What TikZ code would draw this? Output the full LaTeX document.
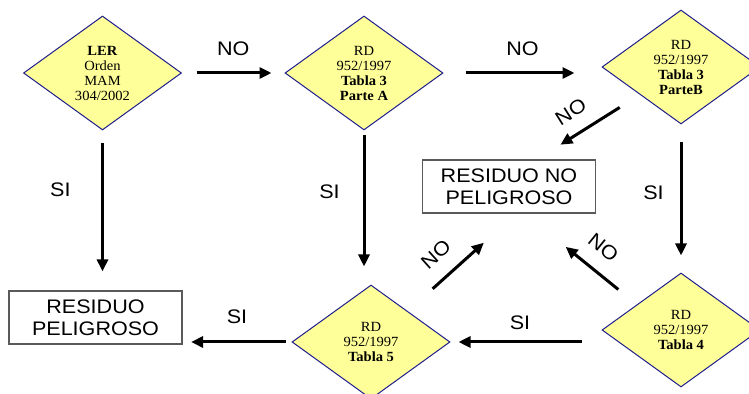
\documentclass[tikz,border=0pt]{standalone}
\usepackage{fontspec}
\setmainfont{Liberation Sans}[FakeStretch=1.1]
\newfontfamily\rdfont{Liberation Serif}[FakeStretch=1.04]
\usetikzlibrary{shapes.geometric,arrows.meta,positioning,calc}
\definecolor{normayellow}{RGB}{255,255,153}
\definecolor{normablue}{RGB}{30,30,140}
\definecolor{boxgray}{RGB}{90,90,90}

\begin{document}
\begin{tikzpicture}[
    x=0.5pt, y=-0.5pt,
    norma/.style={diamond, draw=normablue, line width=0.5pt, fill=normayellow, minimum width=79pt, minimum height=57pt, inner sep=0pt, aspect=1.4, align=center, font=\rdfont\fontsize{7}{7.5}\selectfont},
    residuo/.style={rectangle, draw=boxgray, line width=0.6pt, minimum width=86.5pt, minimum height=26.5pt, inner sep=0pt, align=center, font=\fontsize{9.8}{11.2}\selectfont},
    arrow/.style={-{Triangle[length=6pt,width=5.5pt]}, line width=1.5pt},
    answer/.style={font=\fontsize{9.8}{11}\selectfont}
]
    \useasboundingbox (0,0) rectangle (749,394);

    % Top row
    \node[norma] (ler) at (102.5,73) {\textbf{LER}\\Orden\\MAM\\304/2002};
    \node[norma] (partea) at (364,73) {RD\\952/1997\\\textbf{Tabla 3}\\\textbf{Parte A}};
    \node[norma] (parteb) at (681,67) {RD\\952/1997\\\textbf{Tabla 3}\\\textbf{ParteB}};

    % Bottom row
    \node[norma] (tabla4) at (681,330) {RD\\952/1997\\\textbf{Tabla 4}};
    \node[norma] (tabla5) at (371,342) {RD\\952/1997\\\textbf{Tabla 5}};

    % Results
    \node[residuo] (nopel) at (509,186.5) {RESIDUO NO\\PELIGROSO};
    \node[residuo] (pel) at (95.5,317.5) {RESIDUO\\PELIGROSO};

    % NO along the top
    \draw[arrow, shorten <=7.25pt, shorten >=6.5pt] (ler.east) -- node[answer, above=4.7pt] {NO} (partea.west);
    \draw[arrow, shorten <=11pt, shorten >=13.5pt] (partea.east) -- node[answer, above=4.7pt] {NO} (partea.east -| parteb.west);

    % SI downwards
    \draw[arrow, shorten <=6.5pt, shorten >=9.5pt] (ler.south) -- node[answer, pos=0.37, left=11.9pt] {SI} (ler.south |- pel.north);
    \draw[arrow, shorten <=2.5pt, shorten >=9pt] (partea.south) -- node[answer, pos=0.4, left=8.1pt] {SI} (partea.south |- tabla5.north);
    \draw[arrow, shorten <=9pt, shorten >=8.5pt] (parteb.south) -- node[answer, pos=0.46, left=4.6pt] {SI} (parteb.south |- tabla4.north);

    % SI along the bottom
    \draw[arrow, shorten <=10pt, shorten >=4pt] (tabla5.east -| tabla4.west) -- node[answer, pos=0.54, above=2.2pt] {SI} (tabla5.east);
    \draw[arrow, shorten <=3pt, shorten >=4.25pt] (tabla5.west) -- node[answer, above=5.2pt] {SI} (tabla5.west -| pel.east);

    % NO into residuo no peligroso
    \draw[arrow, shorten <=11.9pt, shorten >=13.8pt] (parteb.214) -- node[answer, sloped, pos=0.556, above=3.6pt] {NO} (nopel.44);
    \draw[arrow, shorten <=16.7pt, shorten >=21.8pt] (tabla5.40) -- node[answer, sloped, pos=0.403, above=4.2pt] {NO} (nopel.-75);
    \draw[arrow, shorten <=11.9pt, shorten >=26.4pt] (tabla4.150) -- node[answer, sloped, pos=0.429, above=4.1pt] {NO} (nopel.-60);
\end{tikzpicture}
\end{document}
